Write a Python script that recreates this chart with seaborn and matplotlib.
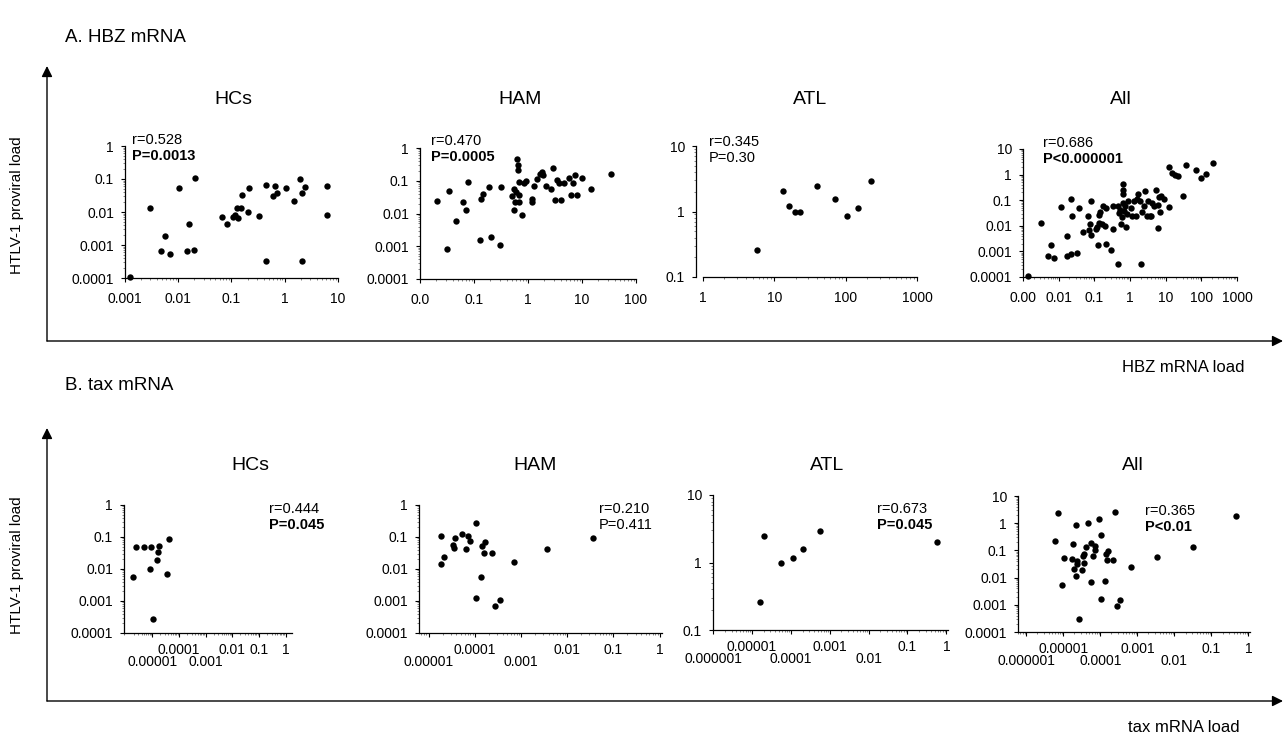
import numpy as np
import pandas as pd
import matplotlib
matplotlib.use("Agg")
import matplotlib.pyplot as plt
import matplotlib.transforms as mtransforms
import seaborn as sns
from matplotlib.ticker import LogLocator, NullFormatter

sns.set_theme(style="white")
plt.rcParams["font.family"] = ["Liberation Sans", "DejaVu Sans"]
plt.rcParams["text.color"] = "black"
plt.rcParams["axes.labelcolor"] = "black"
plt.rcParams["xtick.color"] = "black"
plt.rcParams["ytick.color"] = "black"

# ---------------- data ----------------
# A. HBZ mRNA load (x) vs HTLV-1 proviral load (y)
hbz_hcs_x = [0.00126, 0.0029, 0.0047, 0.0056, 0.0069, 0.0104, 0.0148, 0.016, 0.020, 0.021,
             0.066, 0.081, 0.105, 0.115, 0.129, 0.13, 0.15, 0.155, 0.20, 0.21, 0.33, 0.44,
             0.44, 0.60, 0.65, 0.71, 1.07, 1.48, 1.9, 2.1, 2.1, 2.35, 6.3, 6.2]
hbz_hcs_y = [0.000107, 0.013, 0.00066, 0.0019, 0.00054, 0.053, 0.00066, 0.0042, 0.00073, 0.11,
             0.0069, 0.0042, 0.0069, 0.0083, 0.013, 0.0064, 0.013, 0.032, 0.010, 0.052, 0.0075,
             0.066, 0.00032, 0.030, 0.062, 0.037, 0.052, 0.022, 0.10, 0.037, 0.00032, 0.057,
             0.062, 0.0079]

hbz_ham_x = [0.021, 0.031, 0.035, 0.046, 0.063, 0.07, 0.078, 0.13, 0.135, 0.144, 0.186, 0.21,
             0.30, 0.31, 0.50, 0.55, 0.56, 0.58, 0.60, 0.63, 0.65, 0.65, 0.67, 0.67, 0.69, 0.78,
             0.85, 0.92, 1.2, 1.2, 1.28, 1.47, 1.65, 1.78, 1.91, 2.2, 2.66, 2.9, 3.2, 3.5, 3.8,
             4.0, 4.7, 5.7, 6.2, 6.7, 7.3, 8.1, 10.2, 14.5, 35]
hbz_ham_y = [0.0245, 0.0008, 0.048, 0.0057, 0.023, 0.013, 0.093, 0.0016, 0.028, 0.039, 0.065,
             0.0019, 0.0011, 0.066, 0.035, 0.013, 0.055, 0.023, 0.045, 0.46, 0.30, 0.21, 0.093,
             0.023, 0.038, 0.0089, 0.085, 0.098, 0.028, 0.023, 0.07, 0.11, 0.16, 0.19, 0.15,
             0.07, 0.055, 0.245, 0.025, 0.105, 0.085, 0.025, 0.085, 0.12, 0.036, 0.085, 0.15,
             0.038, 0.118, 0.055, 0.16]

hbz_atl_x = [5.8, 13.2, 15.9, 19.5, 23, 39.6, 72, 103, 150, 224]
hbz_atl_y = [0.26, 2.05, 1.2, 1.0, 1.0, 2.45, 1.55, 0.85, 1.15, 2.95]

hbz_all_x = [0.0014, 0.0032, 0.006, 0.0051, 0.0076, 0.0114, 0.0167, 0.017, 0.022, 0.023,
             0.022, 0.033, 0.037, 0.049, 0.066, 0.07, 0.075, 0.083, 0.083, 0.108, 0.117, 0.13,
             0.134, 0.139, 0.148, 0.165, 0.18, 0.196, 0.214, 0.214, 0.29, 0.34, 0.33, 0.46,
             0.47, 0.5, 0.54, 0.55, 0.6, 0.63, 0.63, 0.63, 0.65, 0.68, 0.72, 0.77, 0.83, 0.9,
             1.07, 1.16, 1.26, 1.44, 1.53, 1.7, 1.9, 2.1, 2.2, 2.4, 2.7, 3.0, 3.3, 3.6, 4.0,
             4.1, 4.6, 5.5, 6.0, 6.2, 6.3, 6.9, 7.3, 9.1, 12.7, 12.6, 14.8, 18.5, 22, 31.6,
             36.6, 69, 96, 138, 212]
hbz_all_y = [0.00011, 0.013, 0.0018, 0.00066, 0.00055, 0.055, 0.00066, 0.0041, 0.11, 0.024,
             0.0008, 0.00089, 0.049, 0.0056, 0.024, 0.0066, 0.012, 0.089, 0.0042, 0.0072,
             0.0089, 0.0018, 0.027, 0.0126, 0.036, 0.012, 0.059, 0.0097, 0.002, 0.049, 0.0011,
             0.0072, 0.062, 0.00033, 0.062, 0.032, 0.043, 0.012, 0.022, 0.42, 0.24, 0.18,
             0.079, 0.037, 0.062, 0.0089, 0.029, 0.089, 0.049, 0.025, 0.089, 0.024, 0.107,
             0.17, 0.089, 0.00033, 0.036, 0.059, 0.22, 0.025, 0.089, 0.024, 0.024, 0.079,
             0.062, 0.26, 0.0081, 0.066, 0.135, 0.036, 0.14, 0.113, 0.052, 1.93, 1.13, 0.97,
             0.92, 0.14, 2.38, 1.47, 0.76, 1.06, 2.84]

# B. tax mRNA load (x) vs HTLV-1 proviral load (y)
tax_hcs_x = [1.96e-6, 2.4e-6, 5.1e-6, 8.7e-6, 8.4e-6, 1.46e-5, 1.7e-5, 1.74e-5, 3.6e-5, 4.1e-5,
             1.07e-5]
tax_hcs_y = [0.0055, 0.05, 0.05, 0.047, 0.010, 0.019, 0.033, 0.053, 0.0069, 0.085, 0.00027]

tax_ham_x = [1.86e-5, 1.9e-5, 2.2e-5, 3.4e-5, 3.6e-5, 3.8e-5, 5.4e-5, 6.3e-5, 7.1e-5, 7.7e-5,
             1.04e-4, 1.38e-4, 1.4e-4, 1.57e-4, 1.67e-4, 2.3e-4, 7.2e-4, 3.7e-3, 0.036,
             1.07e-4, 2.8e-4, 3.5e-4]
tax_ham_y = [0.11, 0.014, 0.023, 0.057, 0.045, 0.093, 0.127, 0.042, 0.11, 0.073, 0.27, 0.0056,
             0.052, 0.032, 0.071, 0.032, 0.017, 0.042, 0.093, 0.0012, 0.0007, 0.00105]

tax_atl_x = [2.0e-5, 5.6e-5, 1.15e-4, 2.1e-4, 5.5e-4, 0.59, 1.66e-5]
tax_atl_y = [2.5, 1.0, 1.18, 1.58, 2.95, 2.0, 0.26]

tax_all_x = [7.1e-6, 2.5e-4, 9.4e-5, 4.6e-5, 2.2e-5, 1.04e-4, 6e-6, 1.86e-5, 5.5e-5, 7.2e-5,
             4e-5, 0.46, 0.031, 0.0034, 6.9e-4, 1.03e-5, 1.7e-5, 2.3e-5, 2.4e-5, 3.5e-5, 3.6e-5,
             3.6e-5, 6.5e-5, 7.2e-5, 1.4e-4, 1.6e-4, 1.5e-4, 2.2e-4, 1.95e-5, 3.2e-5, 2.2e-5,
             9.1e-6, 5.6e-5, 1.36e-4, 1.03e-4, 3.4e-4, 2.8e-4, 2.6e-5]
tax_all_y = [2.3, 2.6, 1.4, 1.05, 0.87, 0.36, 0.23, 0.17, 0.19, 0.15, 0.13, 1.86, 0.129, 0.059,
             0.024, 0.054, 0.05, 0.042, 0.031, 0.06, 0.075, 0.033, 0.06, 0.105, 0.075, 0.094,
             0.046, 0.044, 0.02, 0.019, 0.011, 0.0055, 0.0071, 0.0077, 0.00165, 0.0015,
             0.00094, 0.0003]

# tick values / labels
y_ticks_4 = [1e-4, 1e-3, 1e-2, 1e-1, 1]
y_labels_4 = ["0.0001", "0.001", "0.01", "0.1", "1"]
y_ticks_atl = [0.1, 1, 10]
y_labels_atl = ["0.1", "1", "10"]
y_ticks_all = [1e-4, 1e-3, 1e-2, 1e-1, 1, 10]
y_labels_all = ["0.0001", "0.001", "0.01", "0.1", "1", "10"]

xa_hcs_ticks = [1e-3, 1e-2, 1e-1, 1, 10]
xa_hcs_labels = ["0.001", "0.01", "0.1", "1", "10"]
xa_ham_ticks = [1e-2, 1e-1, 1, 10, 100]
xa_ham_labels = ["0.0", "0.1", "1", "10", "100"]
xa_atl_ticks = [1, 10, 100, 1000]
xa_atl_labels = ["1", "10", "100", "1000"]
xa_all_ticks = [1e-3, 1e-2, 1e-1, 1, 10, 100, 1000]
xa_all_labels = ["0.00", "0.01", "0.1", "1", "10", "100", "1000"]

# row B: staggered labels (upper row / lower row)
xb5_ticks = [1e-5, 1e-4, 1e-3, 1e-2, 1e-1, 1]
xb5_upper = ["", "0.0001", "", "0.01", "0.1", "1"]
xb5_lower = ["0.00001", "", "0.001", "", "", ""]
xb6_ticks = [1e-6, 1e-5, 1e-4, 1e-3, 1e-2, 1e-1, 1]
xb6_upper = ["", "0.00001", "", "0.001", "", "0.1", "1"]
xb6_lower = ["0.000001", "", "0.0001", "", "0.01", "", ""]

# ---------------- figure ----------------
W, H = 1284, 743
fig = plt.figure(figsize=(W / 100, H / 100), dpi=100)
fig.patch.set_facecolor("white")

bg = fig.add_axes([0, 0, 1, 1], zorder=-1)
bg.set_xlim(0, W)
bg.set_ylim(H, 0)
bg.axis("off")

TICK_FS = 10
STAT_FS = 10.5
TITLE_FS = 14

panels = [
    # row A
    dict(x=hbz_hcs_x, y=hbz_hcs_y, box=(125, 146, 338, 278), xlim=(1e-3, 10), ylim=(1e-4, 1),
         xt=xa_hcs_ticks, xl=xa_hcs_labels, xlow=None, yt=y_ticks_4, yl=y_labels_4, lspine=0,
         title="HCs", tpos=(233, 100), r="r=0.528", p="P=0.0013", pbold=True, spos=(132, 140)),
    dict(x=hbz_ham_x, y=hbz_ham_y, box=(420, 148, 636, 279), xlim=(1e-2, 100), ylim=(1e-4, 1),
         xt=xa_ham_ticks, xl=xa_ham_labels, xlow=None, yt=y_ticks_4, yl=y_labels_4, lspine=0,
         title="HAM", tpos=(520, 100), r="r=0.470", p="P=0.0005", pbold=True, spos=(431, 141)),
    dict(x=hbz_atl_x, y=hbz_atl_y, box=(703, 146, 917, 277), xlim=(1, 1000), ylim=(0.1, 10),
         xt=xa_atl_ticks, xl=xa_atl_labels, xlow=None, yt=y_ticks_atl, yl=y_labels_atl, lspine=5,
         title="ATL", tpos=(810, 100), r="r=0.345", p="P=0.30", pbold=False, spos=(709, 142)),
    dict(x=hbz_all_x, y=hbz_all_y, box=(1023, 149, 1237, 277), xlim=(1e-3, 1000), ylim=(1e-4, 10),
         xt=xa_all_ticks, xl=xa_all_labels, xlow=None, yt=y_ticks_all, yl=y_labels_all, lspine=0,
         title="All", tpos=(1121, 100), r="r=0.686", p="P<0.000001", pbold=True, spos=(1043, 143)),
    # row B
    dict(x=tax_hcs_x, y=tax_hcs_y, box=(124, 505, 292, 633), xlim=(8.7e-7, 1.75), ylim=(1e-4, 1),
         xt=xb5_ticks, xl=xb5_upper, xlow=xb5_lower, yt=y_ticks_4, yl=y_labels_4, lspine=0,
         title="HCs", tpos=(250, 465), r="r=0.444", p="P=0.045", pbold=True, spos=(269, 509)),
    dict(x=tax_ham_x, y=tax_ham_y, box=(419, 505, 662, 633), xlim=(6.2e-6, 1.12), ylim=(1e-4, 1),
         xt=xb5_ticks, xl=xb5_upper, xlow=xb5_lower, yt=y_ticks_4, yl=y_labels_4, lspine=0,
         title="HAM", tpos=(535, 465), r="r=0.210", p="P=0.411", pbold=False, spos=(599, 509)),
    dict(x=tax_atl_x, y=tax_atl_y, box=(713, 495, 948, 630), xlim=(2.3e-6, 1.1), ylim=(0.1, 10),
         xt=xb6_ticks, xl=xb6_upper, xlow=xb6_lower, yt=y_ticks_atl, yl=y_labels_atl, lspine=0,
         title="ATL", tpos=(827, 465), r="r=0.673", p="P=0.045", pbold=True, spos=(877, 509)),
    dict(x=tax_all_x, y=tax_all_y, box=(1018, 496, 1250, 632), xlim=(6e-7, 1.1), ylim=(1e-4, 10),
         xt=xb6_ticks, xl=xb6_upper, xlow=xb6_lower, yt=y_ticks_all, yl=y_labels_all, lspine=0,
         title="All", tpos=(1133, 465), r="r=0.365", p="P<0.01", pbold=True, spos=(1145, 511)),
]

for pn in panels:
    l, t, r, b = pn["box"]
    ax = fig.add_axes([l / W, 1 - b / H, (r - l) / W, (b - t) / H])
    df = pd.DataFrame({"x": pn["x"], "y": pn["y"]})
    ax.set_xscale("log")
    ax.set_yscale("log")
    sns.scatterplot(data=df, x="x", y="y", ax=ax, color="black", s=21, linewidth=0,
                    legend=False, clip_on=False, zorder=3)
    ax.set_xlim(*pn["xlim"])
    ax.set_ylim(*pn["ylim"])
    ax.set_xlabel("")
    ax.set_ylabel("")
    ax.set_facecolor("none")
    for side in ("top", "right"):
        ax.spines[side].set_visible(False)
    for side in ("left", "bottom"):
        ax.spines[side].set_color("black")
        ax.spines[side].set_linewidth(0.9)
    if pn["lspine"]:
        ax.spines["left"].set_position(("outward", pn["lspine"]))
    ax.set_xticks(pn["xt"])
    ax.set_xticklabels(pn["xl"], fontsize=TICK_FS)
    ax.set_yticks(pn["yt"])
    ax.set_yticklabels(pn["yl"], fontsize=TICK_FS)
    ax.xaxis.set_minor_locator(LogLocator(base=10, subs=np.arange(2, 10), numticks=50))
    ax.yaxis.set_minor_locator(LogLocator(base=10, subs=np.arange(2, 10), numticks=50))
    ax.xaxis.set_minor_formatter(NullFormatter())
    ax.yaxis.set_minor_formatter(NullFormatter())
    ax.tick_params(which="major", direction="out", length=3, width=0.8, color="black",
                   bottom=True, left=True, labelcolor="black")
    ax.tick_params(axis="y", which="major", pad=5)
    ax.tick_params(axis="x", which="major", pad=4 if pn["xlow"] else 7)
    ax.tick_params(which="minor", direction="out", length=1.5, width=0.5, color="#555555",
                   bottom=True, left=True)
    ax.grid(False)

    if pn["xlow"]:
        trans = mtransforms.offset_copy(ax.get_xaxis_transform(), fig=fig, y=-29, units="dots")
        for tv, lab in zip(pn["xt"], pn["xlow"]):
            if lab:
                ax.text(tv, 0, lab, transform=trans, ha="center", va="center",
                        fontsize=TICK_FS, clip_on=False)

    bg.text(pn["tpos"][0], pn["tpos"][1], pn["title"], ha="center", va="center",
            fontsize=TITLE_FS)
    sx, sy = pn["spos"]
    bg.text(sx, sy, pn["r"], ha="left", va="center", fontsize=STAT_FS)
    bg.text(sx, sy + 16, pn["p"], ha="left", va="center", fontsize=STAT_FS,
            fontweight="bold" if pn["pbold"] else "normal")

# section headers
bg.text(65, 38, "A. HBZ mRNA", ha="left", va="center", fontsize=13.5)
bg.text(65, 385, "B. tax mRNA", ha="left", va="center", fontsize=13.5)

# big framing arrows
arrow_kw = dict(arrowstyle="-|>", color="black", lw=1.0, mutation_scale=16,
                shrinkA=0, shrinkB=0)
bg.annotate("", xy=(47, 66), xytext=(47, 341), arrowprops=arrow_kw)
bg.annotate("", xy=(1283, 341), xytext=(47, 341), arrowprops=arrow_kw)
bg.annotate("", xy=(47, 428), xytext=(47, 701), arrowprops=arrow_kw)
bg.annotate("", xy=(1283, 701), xytext=(47, 701), arrowprops=arrow_kw)

bg.text(17, 205, "HTLV-1 proviral load", rotation=90, ha="center", va="center", fontsize=11)
bg.text(17, 565, "HTLV-1 proviral load", rotation=90, ha="center", va="center", fontsize=11)
bg.text(1245, 368, "HBZ mRNA load", ha="right", va="center", fontsize=12)
bg.text(1240, 727, "tax mRNA load", ha="right", va="center", fontsize=12)

fig.savefig("out.png", dpi=100, facecolor="white")
